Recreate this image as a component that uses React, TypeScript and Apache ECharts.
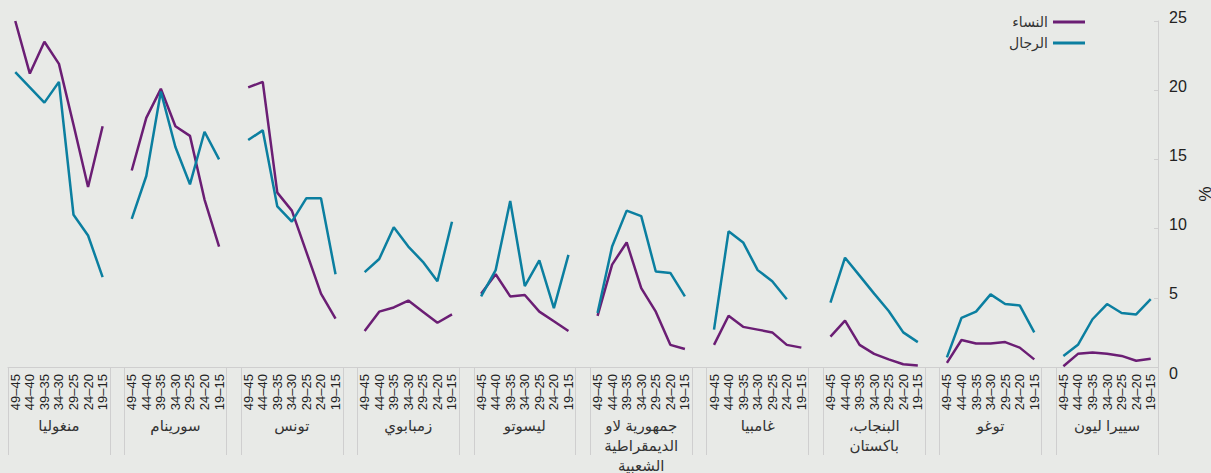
import React, { useEffect, useRef } from 'react';
import * as echarts from 'echarts';

const BG = '#e8eae7';
const WOMEN_COLOR = '#6b1e74';
const MEN_COLOR = '#0b7fa0';
const FONT = "Arial, 'Liberation Sans', 'DejaVu Sans', sans-serif";

const ageGroups = ['49–45', '44–40', '39–35', '34–30', '29–25', '24–20', '19–15'];

const countries = [
  'منغوليا',
  'سورينام',
  'تونس',
  'زمبابوي',
  'ليسوتو',
  'جمهورية لاو\nالديمقراطية\nالشعبية',
  'غامبيا',
  'البنجاب،\u200F\nباكستان',
  'توغو',
  'سييرا ليون',
];

const women: (number | null)[][] = [
  [25.0, 21.2, 23.5, 21.9, 17.5, 13.0, 17.4],
  [14.2, 18.0, 20.1, 17.4, 16.7, 12.1, 8.7],
  [20.2, 20.6, 12.6, 11.3, 8.3, 5.3, 3.5],
  [2.6, 4.0, 4.3, 4.8, 4.0, 3.2, 3.8],
  [5.3, 6.7, 5.1, 5.2, 4.0, 3.3, 2.6],
  [3.7, 7.4, 9.0, 5.7, 4.0, 1.6, 1.3],
  [1.6, 3.7, 2.9, 2.7, 2.5, 1.6, 1.4],
  [2.2, 3.35, 1.6, 0.95, 0.55, 0.2, 0.1],
  [0.3, 1.95, 1.7, 1.7, 1.8, 1.4, 0.55],
  [0.05, 0.95, 1.05, 0.95, 0.8, 0.45, 0.6],
];

const men: (number | null)[][] = [
  [21.3, 20.2, 19.1, 20.6, 11.0, 9.5, 6.5],
  [10.7, 13.8, 19.9, 15.9, 13.2, 17.0, 15.0],
  [16.4, 17.1, 11.6, 10.5, 12.2, 12.2, 6.7],
  [6.85, 7.8, 10.1, 8.7, 7.6, 6.2, 10.5],
  [5.1, 7.0, 12.0, 5.85, 7.7, 4.25, 8.1],
  [3.9, 8.7, 11.3, 10.9, 6.9, 6.8, 5.1],
  [2.7, 9.8, 9.0, 7.0, 6.2, 4.9, null],
  [4.65, 7.9, 6.6, 5.3, 4.05, 2.5, 1.8],
  [0.7, 3.55, 4.0, 5.25, 4.55, 4.45, 2.5],
  [0.8, 1.6, 3.45, 4.55, 3.9, 3.8, 4.9],
];

const seriesNames = ['النساء', 'الرجال'];

export default function App() {
  const ref = useRef<HTMLDivElement>(null);

  useEffect(() => {
    document.body.style.margin = '0';
    document.body.style.background = BG;
    const chart = echarts.init(ref.current!, null, { renderer: 'svg' });

    const cats: string[] = [];
    const nameCats: string[] = [];
    const wData: (number | null)[] = [];
    const mData: (number | null)[] = [];
    countries.forEach((c, g) => {
      if (g > 0) {
        cats.push('');
        nameCats.push('');
        wData.push(null);
        mData.push(null);
      }
      ageGroups.forEach((a, i) => {
        cats.push(a);
        nameCats.push(i === 3 ? c : '');
        wData.push(women[g][i]);
        mData.push(men[g][i]);
      });
    });

    const gridBox = { left: 8, right: 53, top: 21, bottom: 106 };

    chart.setOption({
      animation: false,
      backgroundColor: BG,
      textStyle: { fontFamily: FONT },
      grid: [
        { ...gridBox, containLabel: false, outerBoundsMode: 'none' },
        { ...gridBox, containLabel: false, outerBoundsMode: 'none' },
      ],
      legend: {
        orient: 'vertical',
        right: 121,
        top: 10,
        align: 'right',
        icon: 'rect',
        itemWidth: 32,
        itemHeight: 3,
        itemGap: 7,
        textStyle: { fontSize: 14, color: '#333', fontFamily: FONT },
        data: seriesNames,
      },
      xAxis: [
        {
          type: 'category',
          gridIndex: 0,
          data: cats,
          boundaryGap: true,
          axisLine: { show: true, lineStyle: { color: '#cfcfcf', width: 1 } },
          axisTick: {
            show: true,
            length: 88,
            interval: (i: number) => i % 8 === 0 || i % 8 === 7,
            lineStyle: { color: '#cfcfcf', width: 1 },
          },
          axisLabel: {
            interval: 0,
            rotate: 90,
            margin: 7,
            fontSize: 13,
            color: '#222',
            fontFamily: FONT,
          },
        },
        {
          type: 'category',
          gridIndex: 1,
          data: nameCats,
          boundaryGap: true,
          axisLine: { show: false },
          axisTick: { show: false },
          axisLabel: {
            interval: 0,
            margin: 48,
            fontSize: 15,
            lineHeight: 20,
            color: '#333',
            fontFamily: FONT,
          },
        },
      ],
      yAxis: [
        {
          type: 'value',
          gridIndex: 0,
          position: 'right',
          min: 0,
          max: 25,
          interval: 5,
          splitLine: { show: false },
          axisLine: { show: true, lineStyle: { color: '#cfcfcf', width: 1 } },
          axisTick: { show: true, inside: true, length: 4, lineStyle: { color: '#cfcfcf' } },
          axisLabel: {
            fontSize: 16,
            color: '#222',
            margin: 11,
            fontFamily: FONT,
            formatter: (v: number) => (v === 0 ? '{z|0}' : '{a|' + v + '}'),
            rich: {
              a: { fontSize: 16, color: '#222', fontFamily: FONT, padding: [0, 0, 8, 0] },
              z: { fontSize: 16, color: '#222', fontFamily: FONT, padding: [12, 0, 0, 0] },
            },
          },
          name: '%',
          nameLocation: 'middle',
          nameGap: 38,
          nameMoveOverlap: false,
          nameRotate: -90,
          nameTextStyle: { fontSize: 17, color: '#222', fontFamily: FONT },
        },
        {
          type: 'value',
          gridIndex: 1,
          show: false,
          min: 0,
          max: 25,
        },
      ],
      series: [
        {
          name: seriesNames[0],
          type: 'line',
          xAxisIndex: 0,
          yAxisIndex: 0,
          data: wData,
          showSymbol: false,
          connectNulls: false,
          color: WOMEN_COLOR,
          lineStyle: { color: WOMEN_COLOR, width: 2.5 },
        },
        {
          name: seriesNames[1],
          type: 'line',
          xAxisIndex: 0,
          yAxisIndex: 0,
          data: mData,
          showSymbol: false,
          connectNulls: false,
          color: MEN_COLOR,
          lineStyle: { color: MEN_COLOR, width: 2.5 },
        },
      ],
    });

    return () => {
      chart.dispose();
    };
  }, []);

  return <div ref={ref} style={{ width: 1211, height: 473 }} />;
}
